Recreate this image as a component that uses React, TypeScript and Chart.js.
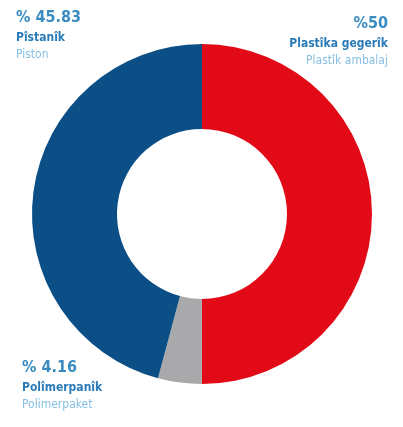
import React, { useEffect, useRef } from "react";
import { Chart, registerables } from "chart.js";

Chart.register(...registerables);

const categories = ["Plastîka gegerîk", "Polîmerpanîk", "Pîstanîk"];
const subLabels = ["Plastîk ambalaj", "Polimerpaket", "Piston"];
const values = [50, 4.16, 45.83];
const percentLabels = ["%50", "% 4.16", "% 45.83"];
const colors = ["#e30a17", "#a9a9ab", "#0b4f86"];

const font = "'DejaVu Sans Condensed', 'DejaVu Sans', sans-serif";

export default function App() {
  const ref = useRef<HTMLCanvasElement | null>(null);

  useEffect(() => {
    document.body.style.margin = "0";
    const ctx = ref.current;
    if (!ctx) return;
    const chart = new Chart(ctx, {
      type: "doughnut",
      data: {
        labels: categories,
        datasets: [
          {
            data: values,
            backgroundColor: colors,
            borderWidth: 0,
          },
        ],
      },
      options: {
        responsive: false,
        animation: false,
        cutout: "50%",
        layout: { padding: { left: 32, right: 31, top: 44, bottom: 43 } },
        plugins: {
          legend: { display: false },
          tooltip: { enabled: false },
        },
      },
    });
    return () => chart.destroy();
  }, []);

  const base: React.CSSProperties = {
    fontFamily: font,
    fontStretch: "condensed",
    whiteSpace: "nowrap",
  };
  const pct: React.CSSProperties = {
    ...base,
    fontWeight: 700,
    fontSize: 16,
    color: "#3a8cc0",
    lineHeight: "24px",
  };
  const title: React.CSSProperties = {
    ...base,
    fontWeight: 700,
    fontSize: 12,
    color: "#2a7bb8",
    lineHeight: "17px",
  };
  const sub: React.CSSProperties = {
    ...base,
    fontWeight: 400,
    fontSize: 12,
    color: "#86bfe2",
    lineHeight: "17px",
  };

  return (
    <div style={{ position: "relative", width: 403, height: 427, background: "#ffffff" }}>
      <canvas ref={ref} width={403} height={427} style={{ position: "absolute", left: 0, top: 0 }} />
      <div style={{ position: "absolute", left: 16, top: 5, textAlign: "left" }}>
        <div style={pct}>{percentLabels[2]}</div>
        <div style={title}>{categories[2]}</div>
        <div style={sub}>{subLabels[2]}</div>
      </div>
      <div style={{ position: "absolute", right: 15, top: 11, textAlign: "right" }}>
        <div style={pct}>{percentLabels[0]}</div>
        <div style={title}>{categories[0]}</div>
        <div style={sub}>{subLabels[0]}</div>
      </div>
      <div style={{ position: "absolute", left: 22, top: 355, textAlign: "left" }}>
        <div style={pct}>{percentLabels[1]}</div>
        <div style={title}>{categories[1]}</div>
        <div style={sub}>{subLabels[1]}</div>
      </div>
    </div>
  );
}
